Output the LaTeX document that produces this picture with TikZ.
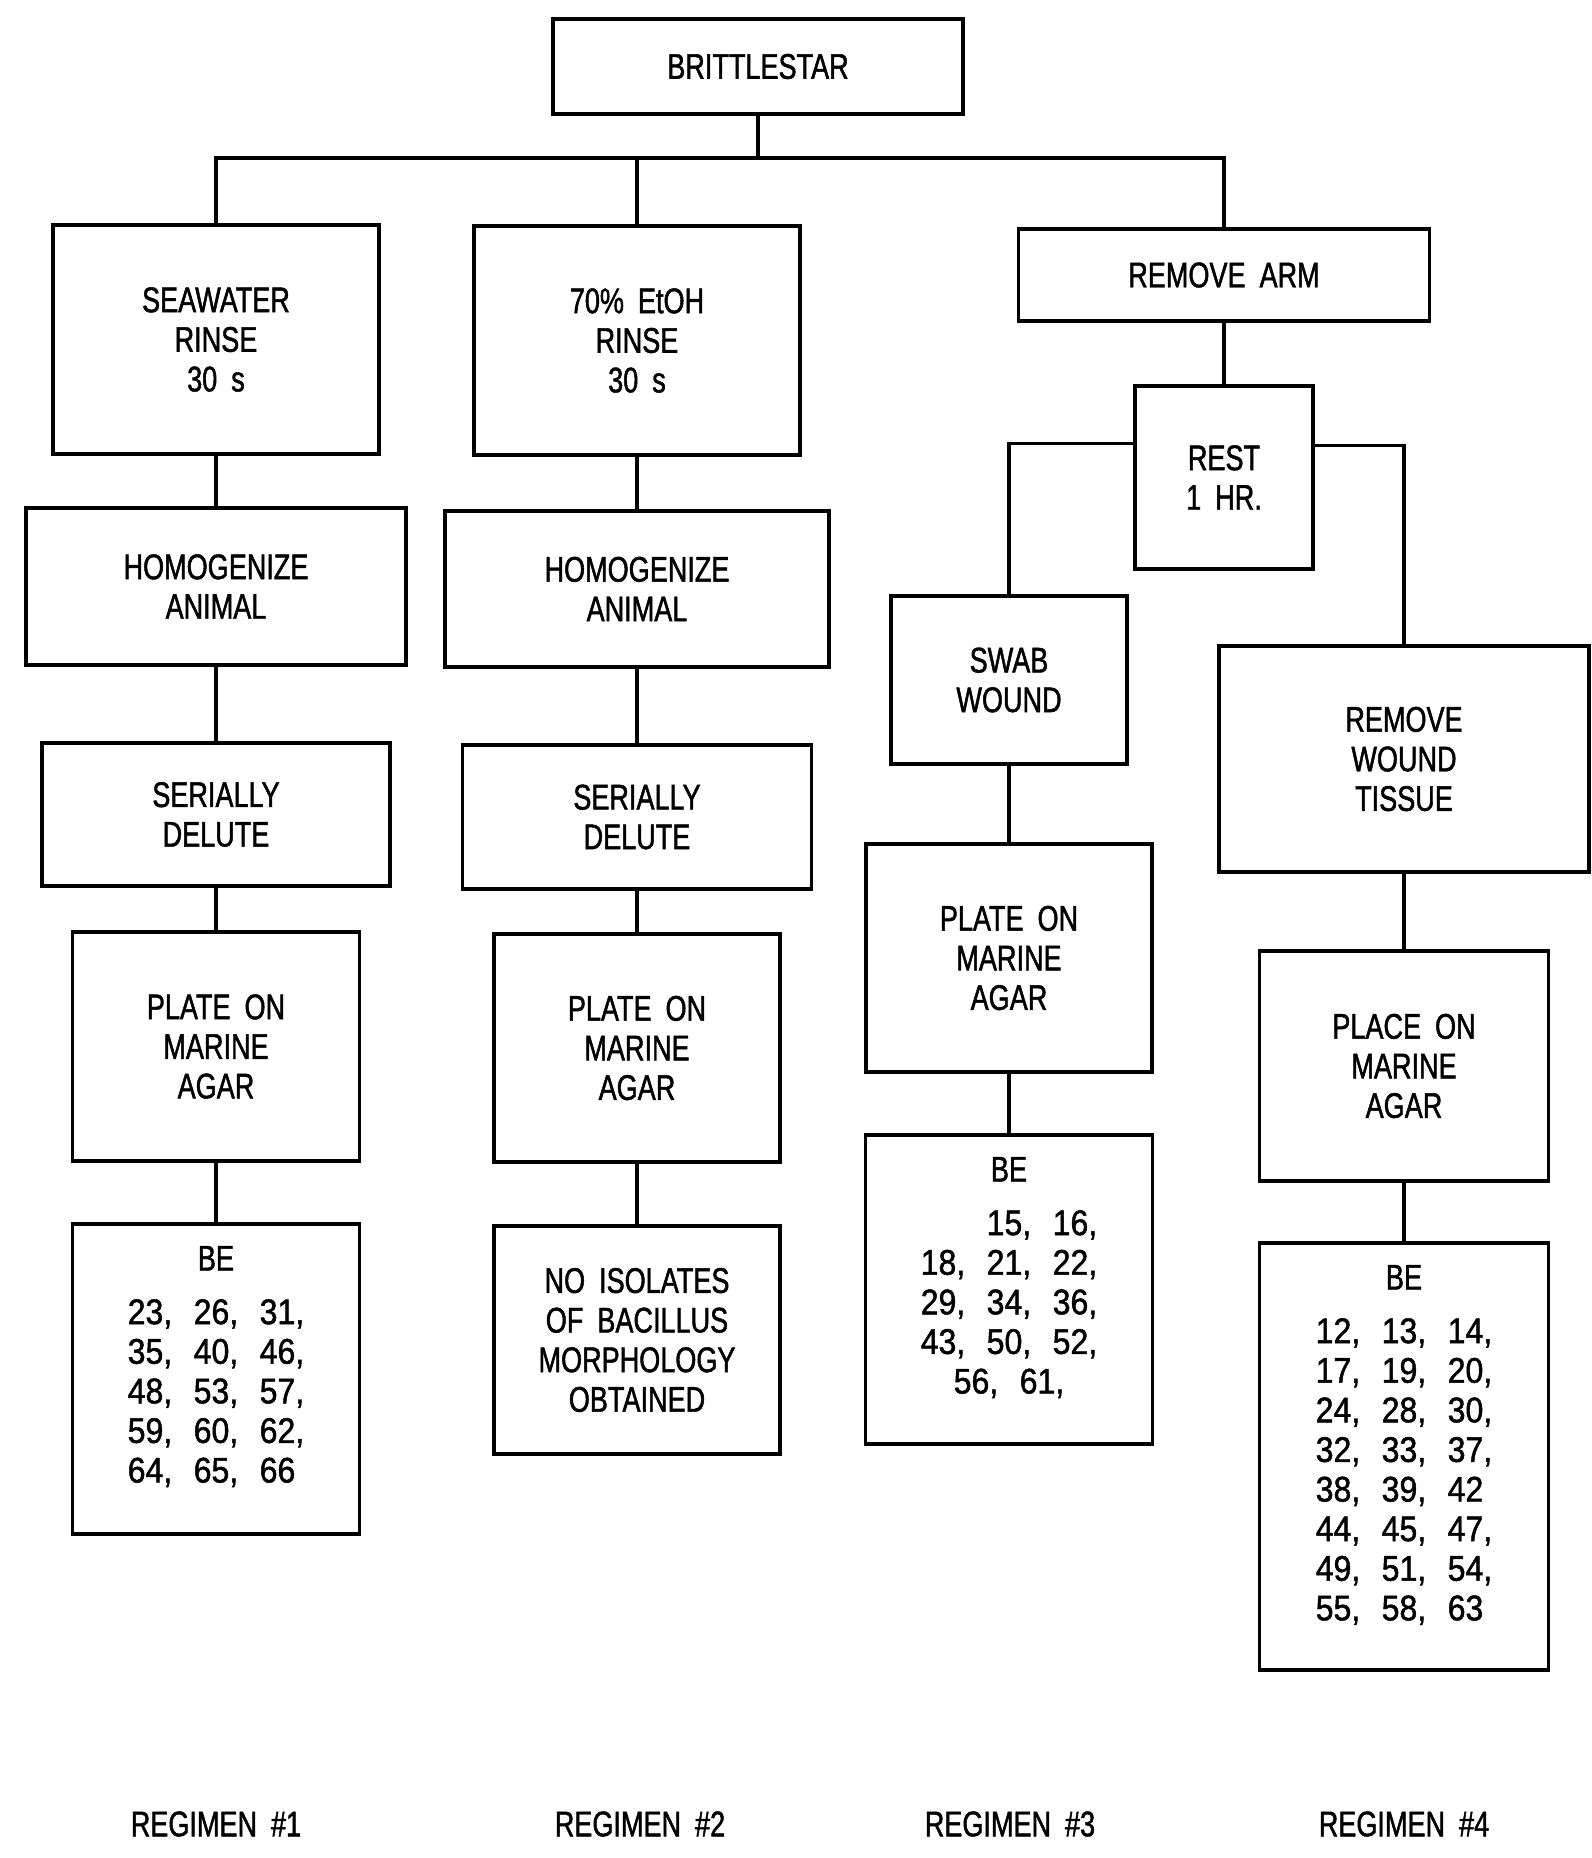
\documentclass[tikz,border=0pt]{standalone}
\usepackage{fontspec}
\setmainfont{Liberation Sans}[FakeStretch=0.76, FakeBold=1.3]
\newfontfamily\numf{Liberation Sans}[FakeStretch=0.9, FakeBold=1.3]
\newcommand\nc[1]{\makebox[33pt][l]{#1}}
\newcommand\gp{\hspace{7pt}}
\tikzset{
  box/.style={draw, line width=1.7pt, inner sep=0pt, align=center,
              font=\fontsize{17.8}{19.8}\selectfont},
  link/.style={line width=1.6pt},
  reg/.style={font=\fontsize{17.8}{19.8}\selectfont}
}
\begin{document}
\begin{tikzpicture}[x=0.5pt, y=-0.5pt]
\useasboundingbox (0,0) rectangle (1591,1858);

% top
\node[box, minimum width=205pt, minimum height=47.5pt] (brit) at (758,66.5) {BRITTLESTAR};

% column 1
\node[box, minimum width=163pt, minimum height=114.5pt] (sea) at (216,339.5) {SEAWATER\\RINSE\\30\gp s};
\node[box, minimum width=190pt, minimum height=78.5pt] (hom1) at (216,586.5) {HOMOGENIZE\\ANIMAL};
\node[box, minimum width=174pt, minimum height=71.5pt] (ser1) at (216,814.5) {SERIALLY\\DELUTE};
\node[box, minimum width=143.5pt, minimum height=114.5pt] (pl1) at (216,1046.5) {PLATE\gp ON\\MARINE\\AGAR};
\node[box] (be1) at (216,1379) {\parbox[c][155pt][t]{143.5pt}{\centering\vspace*{11pt}BE\\[7pt]\numf
  \nc{23,}\nc{26,}31,\\
  \nc{35,}\nc{40,}46,\\
  \nc{48,}\nc{53,}57,\\
  \nc{59,}\nc{60,}62,\\
  \nc{64,}\nc{65,}66\phantom{,}}};

% column 2
\node[box, minimum width=163pt, minimum height=114.5pt] (eth) at (637,340.5) {70\%\gp EtOH\\RINSE\\30\gp s};
\node[box, minimum width=192pt, minimum height=78pt] (hom2) at (637,589) {HOMOGENIZE\\ANIMAL};
\node[box, minimum width=174.5pt, minimum height=72pt] (ser2) at (637,817) {SERIALLY\\DELUTE};
\node[box, minimum width=143pt, minimum height=114pt] (pl2) at (637,1048) {PLATE\gp ON\\MARINE\\AGAR};
\node[box, minimum width=143pt, minimum height=114pt] (no2) at (637,1340) {NO\gp ISOLATES\\OF\gp BACILLUS\\MORPHOLOGY\\OBTAINED};

% right branch
\node[box, minimum width=205.5pt, minimum height=46pt] (arm) at (1224,275) {REMOVE\gp ARM};
\node[box, minimum width=89pt, minimum height=91.5pt] (rest) at (1224,477.5) {REST\\1\gp HR.};

% column 3
\node[box, minimum width=118pt, minimum height=84pt] (swab) at (1009,680) {SWAB\\WOUND};
\node[box, minimum width=143pt, minimum height=114pt] (pl3) at (1009,958) {PLATE\gp ON\\MARINE\\AGAR};
\node[box] (be3) at (1009,1289.5) {\parbox[c][154.5pt][t]{143.5pt}{\centering\vspace*{11pt}BE\\[7pt]\numf
  \nc{}\nc{15,}16,\\
  \nc{18,}\nc{21,}22,\\
  \nc{29,}\nc{34,}36,\\
  \nc{43,}\nc{50,}52,\\
  \nc{56,}61,}};

% column 4
\node[box, minimum width=185pt, minimum height=113pt] (rwt) at (1404,759) {REMOVE\\WOUND\\TISSUE};
\node[box, minimum width=144.5pt, minimum height=115pt] (pl4) at (1404,1066) {PLACE\gp ON\\MARINE\\AGAR};
\node[box] (be4) at (1404,1456.5) {\parbox[c][213.5pt][t]{144.5pt}{\centering\vspace*{11pt}BE\\[7pt]\numf
  \nc{12,}\nc{13,}14,\\
  \nc{17,}\nc{19,}20,\\
  \nc{24,}\nc{28,}30,\\
  \nc{32,}\nc{33,}37,\\
  \nc{38,}\nc{39,}42\phantom{,}\\
  \nc{44,}\nc{45,}47,\\
  \nc{49,}\nc{51,}54,\\
  \nc{55,}\nc{58,}63\phantom{,}}};

% regimen labels
\node[reg] (r1) at (216,1824) {REGIMEN\gp\#1};
\node[reg] (r2) at (640,1824) {REGIMEN\gp\#2};
\node[reg] (r3) at (1010,1824) {REGIMEN\gp\#3};
\node[reg] (r4) at (1404,1824) {REGIMEN\gp\#4};

% connectors
\coordinate (j) at (758,158);
\draw[link] (brit.south) -- (j);
\draw[link] (sea.north) |- (j) -| (arm.north);
\draw[link] (eth.north) -- (eth.north |- j);
\draw[link] (arm.south) -- (rest.north);
\draw[link] ([yshift=17pt]rest.west) -| (swab.north);
\draw[link] ([yshift=16pt]rest.east) -| (rwt.north);

\draw[link] (sea.south) -- (sea.south |- hom1.north);
\draw[link] (hom1.south) -- (hom1.south |- ser1.north);
\draw[link] (ser1.south) -- (ser1.south |- pl1.north);
\draw[link] (pl1.south) -- (pl1.south |- be1.north);

\draw[link] (eth.south) -- (eth.south |- hom2.north);
\draw[link] (hom2.south) -- (hom2.south |- ser2.north);
\draw[link] (ser2.south) -- (ser2.south |- pl2.north);
\draw[link] (pl2.south) -- (pl2.south |- no2.north);

\draw[link] (swab.south) -- (swab.south |- pl3.north);
\draw[link] (pl3.south) -- (pl3.south |- be3.north);

\draw[link] (rwt.south) -- (rwt.south |- pl4.north);
\draw[link] (pl4.south) -- (pl4.south |- be4.north);
\end{tikzpicture}
\end{document}
